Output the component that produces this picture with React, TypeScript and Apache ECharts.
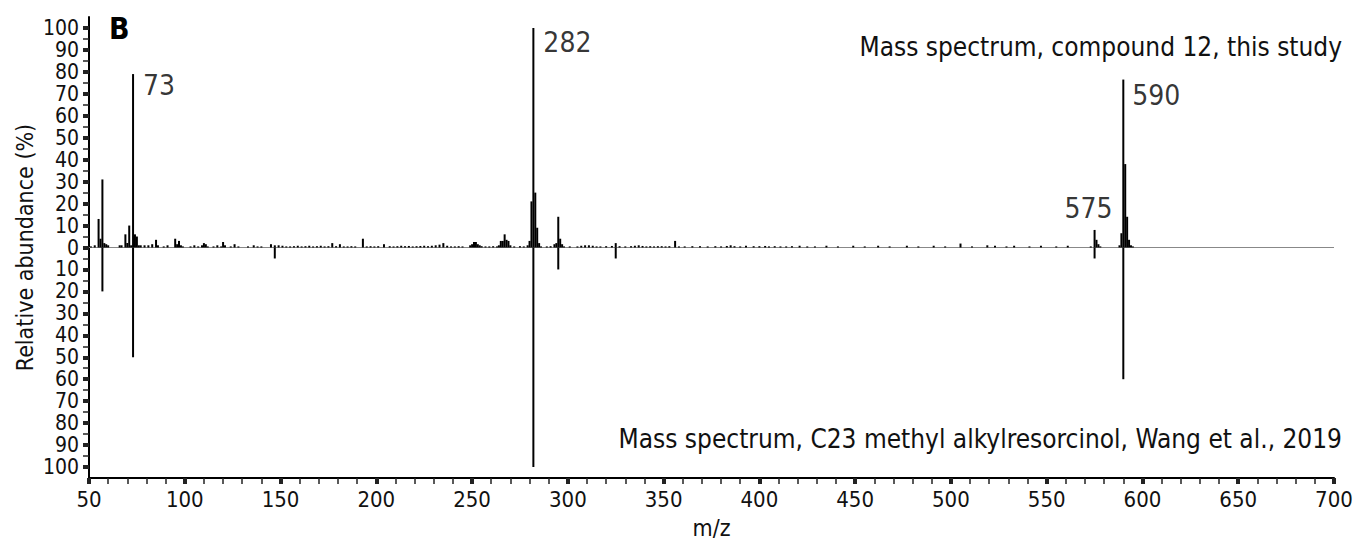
import React, { useEffect, useRef } from "react";
import * as echarts from "echarts";

// m/z and relative abundance (%) — compound 12, this study (upper trace)
const mzCompound = [
  51, 53, 55, 56, 57, 58, 59, 60, 66, 67, 69, 70, 71, 72, 73, 74, 75, 76, 77, 79,
  81, 83, 85, 86, 89, 91, 95, 96, 97, 98, 99, 103, 105, 107, 109, 110, 111, 112, 115, 117,
  119, 120, 121, 124, 126, 128, 133, 136, 138, 140, 145, 147, 149, 151, 153, 155, 157, 159, 161, 163,
  165, 167, 169, 171, 173, 175, 177, 179, 181, 183, 185, 187, 189, 193, 195, 197, 199, 201, 204, 207,
  209, 211, 213, 215, 217, 219, 221, 223, 225, 227, 229, 231, 233, 235, 237, 239, 241, 243, 245, 249,
  250, 251, 252, 253, 254, 255, 257, 259, 261, 263, 264, 265, 266, 267, 268, 269, 270, 272, 275, 277,
  279, 280, 281, 282, 283, 284, 285, 286, 289, 291, 293, 294, 295, 296, 297, 298, 301, 305, 307, 309,
  311, 313, 315, 317, 320, 323, 325, 327, 330, 333, 335, 337, 339, 341, 343, 345, 347, 349, 351, 353,
  356, 358, 361, 365, 369, 373, 377, 380, 383, 385, 387, 390, 393, 397, 400, 403, 405, 408, 411, 414,
  417, 421, 425, 429, 435, 441, 449, 455, 462, 468, 477, 483, 491, 497, 505, 511, 519, 523, 529, 533,
  541, 547, 555, 561, 573, 575, 576, 577, 578, 588, 589, 590, 591, 592, 593, 594, 595,
];
const abundanceCompound = [
  0.5, 1, 13, 4, 31, 2, 1.5, 1, 1, 1, 6, 2, 10, 1, 79, 6, 5, 1, 1, 1,
  1, 1.5, 3.5, 1, 0.5, 1, 4, 1.5, 3, 1, 0.5, 0.5, 1, 0.5, 1, 2, 1.5, 0.5, 0.5, 1,
  0.5, 2.5, 1, 0.5, 1.5, 0.5, 0.5, 1, 0.5, 0.5, 1.5, 1, 1, 0.8, 0.5, 0.5, 0.6, 0.8, 0.5, 0.6,
  0.8, 0.5, 0.6, 0.8, 0.5, 0.6, 2, 0.6, 1.5, 0.5, 0.5, 0.6, 0.5, 4, 0.5, 0.6, 0.5, 0.6, 1.5, 0.6,
  0.5, 0.6, 0.8, 0.6, 0.7, 0.5, 0.6, 0.7, 0.8, 0.6, 0.8, 1, 1.3, 2, 0.8, 0.5, 0.5, 0.6, 0.5, 1,
  1.5, 2.5, 2.5, 1.5, 1, 0.6, 0.5, 0.5, 0.6, 0.5, 1, 3, 3, 6, 3.5, 3, 1, 0.5, 0.6, 0.5,
  1, 3, 21, 100, 25, 9, 2, 0.5, 0.5, 0.6, 1.5, 2, 14, 4, 1.5, 0.5, 0.5, 0.5, 0.8, 1,
  1, 0.8, 0.5, 0.5, 0.6, 0.7, 2, 0.6, 0.5, 0.6, 0.8, 1, 0.7, 0.5, 0.6, 0.5, 0.6, 0.6, 0.5, 0.6,
  3, 0.5, 0.5, 0.6, 0.6, 0.5, 0.6, 0.5, 0.7, 1, 0.6, 0.5, 0.8, 0.6, 0.6, 0.7, 0.5, 0.6, 0.5, 0.5,
  0.6, 0.8, 0.5, 0.5, 0.8, 0.5, 0.8, 0.5, 0.8, 0.5, 0.8, 0.5, 0.8, 0.5, 1.8, 0.5, 1, 0.8, 0.5, 0.8,
  0.5, 0.8, 0.5, 0.8, 0.5, 8, 3.5, 1.5, 0.5, 1, 6.5, 76.5, 38, 14, 3.5, 1, 0.5,
];

// Reference spectrum: C23 methyl alkylresorcinol, Wang et al., 2019 (lower, mirrored trace)
const mzReference = [57, 73, 147, 282, 295, 325, 575, 590];
const abundanceReference = [20, 50, 5, 100, 10, 5, 5, 60];

// Annotated peaks
const labeledPeaks = [73, 282, 575, 590];

const TITLE_TOP = "Mass spectrum, compound 12, this study";
const TITLE_BOTTOM = "Mass spectrum, C23 methyl alkylresorcinol, Wang et al., 2019";

const FONT = "'Liberation Sans Narrow', 'DejaVu Sans Condensed', 'Arial Narrow', sans-serif";
const INK = "#111";

const labelOffsets: Record<number, [number, number]> = {
  73: [10, 11],
  282: [10, 15],
  575: [-30, -21],
  590: [9, 16],
};

// plot geometry (px)
const G_LEFT = 89;
const G_RIGHT = 22;
const G_TOP = 17;
const G_BOTTOM = 63;
const PAD = 11; // 5 % units of the ±105 axis

export default function App() {
  const ref = useRef<HTMLDivElement>(null);

  useEffect(() => {
    document.body.style.margin = "0";
    if (!ref.current) return;
    const chart = echarts.init(ref.current, null, { renderer: "svg" });

    const stick = (params: any, api: any) => {
      const x = api.value(0);
      const y = api.value(1);
      const base = api.coord([x, 0]);
      const tip = api.coord([x, y]);
      const w = 2;
      return {
        type: "rect",
        shape: {
          x: base[0] - w / 2,
          y: Math.min(base[1], tip[1]),
          width: w,
          height: Math.abs(tip[1] - base[1]),
        },
        style: { fill: "#000" },
      };
    };

    const upper = mzCompound.map((m, i) => [m, abundanceCompound[i]]);
    const lower = mzReference.map((m, i) => [m, -abundanceReference[i]]);
    const labels = labeledPeaks.map((m) => {
      const v = abundanceCompound[mzCompound.indexOf(m)];
      return {
        value: [m, v],
        label: {
          show: true,
          position: "right",
          distance: 0,
          offset: labelOffsets[m],
          formatter: String(m),
          color: "#000",
          fontSize: 28,
          fontFamily: FONT,
        },
      };
    });

    chart.setOption({
      animation: false,
      textStyle: { fontFamily: FONT },
      grid: [
        { left: G_LEFT, right: G_RIGHT, top: G_TOP, bottom: G_BOTTOM, outerBoundsMode: "none", containLabel: false },
        { left: G_LEFT, right: G_RIGHT, top: G_TOP + PAD, bottom: G_BOTTOM + PAD, outerBoundsMode: "none", containLabel: false },
      ],
      xAxis: [
        {
          gridIndex: 0,
          type: "value",
          min: 50,
          max: 700,
          interval: 50,
          name: "m/z",
          nameLocation: "middle",
          nameGap: 38,
          nameTextStyle: { fontSize: 23, color: INK, fontFamily: FONT },
          axisLine: { show: true, onZero: false, lineStyle: { color: "#000", width: 2 } },
          axisTick: { show: true, length: 6, lineStyle: { color: "#222", width: 4 } },
          minorTick: { show: true, splitNumber: 5, length: 6, lineStyle: { color: "#222", width: 1.5 } },
          axisLabel: { fontSize: 22, color: INK, margin: 10, fontFamily: FONT },
          splitLine: { show: false },
        },
        {
          gridIndex: 1,
          type: "value",
          min: 50,
          max: 700,
          show: false,
        },
      ],
      yAxis: [
        {
          gridIndex: 0,
          type: "value",
          min: -105,
          max: 105,
          name: "Relative abundance (%)",
          nameLocation: "middle",
          nameGap: 53,
          nameTextStyle: { fontSize: 23, color: INK, fontFamily: FONT },
          axisLine: { show: true, onZero: false, lineStyle: { color: "#000", width: 2 } },
          axisTick: { show: false },
          axisLabel: { show: false },
          splitLine: { show: false },
        },
        {
          gridIndex: 1,
          type: "value",
          min: -100,
          max: 100,
          interval: 10,
          axisLine: { show: false },
          axisTick: { show: true, length: 6, lineStyle: { color: "#222", width: 4 } },
          minorTick: { show: true, splitNumber: 2, length: 6, lineStyle: { color: "#222", width: 1.5 } },
          axisLabel: {
            show: true,
            fontSize: 21,
            lineHeight: 19,
            color: INK,
            margin: 10,
            fontFamily: FONT,
            formatter: (v: number) => String(Math.abs(v)),
          },
          splitLine: { show: false },
        },
      ],
      series: [
        {
          type: "custom",
          name: "compound 12",
          xAxisIndex: 0,
          yAxisIndex: 0,
          renderItem: stick,
          encode: { x: 0, y: 1 },
          data: upper,
          z: 3,
          markLine: {
            silent: true,
            symbol: ["none", "none"],
            label: { show: false },
            lineStyle: { color: "#888", width: 1, type: "solid" },
            data: [{ yAxis: 0 }],
            z: 2,
          },
        },
        {
          type: "custom",
          name: "Wang et al., 2019",
          xAxisIndex: 0,
          yAxisIndex: 0,
          renderItem: stick,
          encode: { x: 0, y: 1 },
          data: lower,
          z: 3,
        },
        {
          type: "scatter",
          xAxisIndex: 0,
          yAxisIndex: 0,
          symbolSize: 0,
          silent: true,
          data: labels,
          z: 4,
        },
      ],
      graphic: [
        {
          type: "text",
          left: 109,
          top: 13,
          style: { text: "B", fontSize: 30, fontWeight: "bold", fill: "#000", fontFamily: FONT },
        },
        {
          type: "text",
          right: 14,
          top: 34,
          style: { text: TITLE_TOP, fontSize: 26, fill: INK, fontFamily: FONT },
        },
        {
          type: "text",
          right: 14,
          top: 426,
          style: { text: TITLE_BOTTOM, fontSize: 26, fill: INK, fontFamily: FONT },
        },
      ],
    });

    return () => chart.dispose();
  }, []);

  return <div ref={ref} style={{ width: 1356, height: 541 }} />;
}
